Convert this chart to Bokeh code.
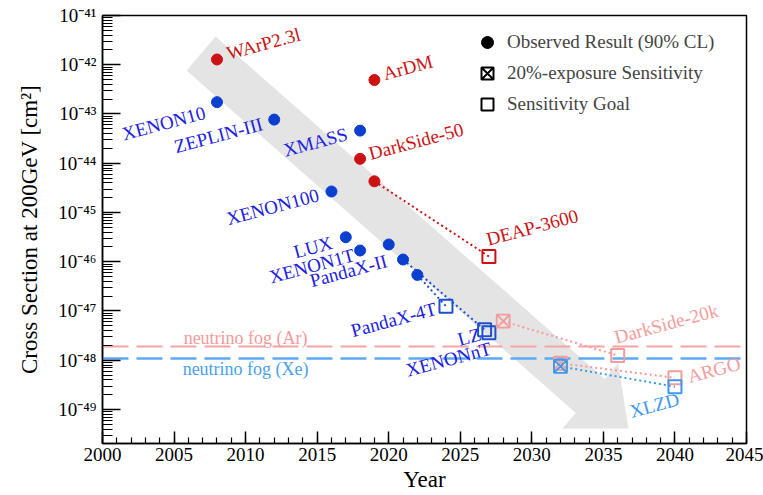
import math
from bokeh.plotting import figure
from bokeh.models import ColumnDataSource, FixedTicker, Legend, LegendItem, Range1d
from bokeh.core.properties import value
from bokeh.embed import file_html
from bokeh.resources import INLINE

FONT = "Liberation Serif"

# ---------------- data ----------------
# Observed results (90% CL) -- argon experiments
ar_obs_names = ["WArP2.3l", "ArDM", "DarkSide-50", "DEAP-3600"]
ar_obs_years = [2008, 2019, 2018, 2019]
ar_obs_xsec = [1.28e-42, 4.9e-43, 1.23e-44, 4.3e-45]

# Observed results (90% CL) -- xenon experiments
xe_obs_names = ["XENON10", "ZEPLIN-III", "XMASS", "XENON100", "LUX", "XENON1T",
                "PandaX-II", "LZ", "PandaX-4T"]
xe_obs_years = [2008, 2012, 2018, 2016, 2017, 2018, 2020, 2021, 2022]
xe_obs_xsec = [1.74e-43, 7.7e-44, 4.6e-44, 2.67e-45, 3.15e-46, 1.69e-46,
               2.24e-46, 1.11e-46, 5.4e-47]

# Sensitivity goals
goal_names = ["PandaX-4T", "LZ", "XENONnT", "DEAP-3600", "DarkSide-20k", "ARGO", "XLZD"]
goal_years = [2024, 2026.7, 2027, 2027, 2036, 2040, 2040]
goal_xsec = [1.25e-47, 4.15e-48, 3.6e-48, 1.28e-46, 1.25e-48, 4.4e-49, 2.9e-49]

# 20%-exposure sensitivities
exp20_names = ["DarkSide-20k", "ARGO", "XLZD"]
exp20_years = [2028, 2032, 2032]
exp20_xsec = [6.2e-48, 8.7e-49, 7.5e-49]

# neutrino fog levels
fog_ar = 1.9e-48
fog_xe = 1.1e-48

# the grey trend arrow outline (year, cross section)
arrow_years = [2005.87, 2007.90, 2035.10, 2036.03, 2036.75, 2032.14, 2033.07]
arrow_xsec = [7.64e-43, 3.75e-42, 4.18e-49, 8.67e-49, 4.11e-50, 4.11e-50, 8.53e-50]

# axis ticks
x_major = list(range(2000, 2046, 5))
x_minor = list(range(2000, 2046))
y_exponents = [-49, -48, -47, -46, -45, -44, -43, -42, -41]
y_tick_labels = ["10⁻⁴⁹", "10⁻⁴⁸", "10⁻⁴⁷", "10⁻⁴⁶", "10⁻⁴⁵", "10⁻⁴⁴", "10⁻⁴³", "10⁻⁴²", "10⁻⁴¹"]

# ---------------- colours ----------------
RED = "#cc1212"
PINK = "#f49c9c"
BLUE_DOT = "#0a3fd0"
BLUE_TXT = "#2020e0"
BLUE_SQ = "#1f4fcc"
LBLUE = "#3d97ee"

# ---------------- figure ----------------
p = figure(width=763, height=495, x_range=Range1d(2000, 2045),
           y_range=Range1d(2.04e-50, 1e-41), y_axis_type="log",
           output_backend="svg", toolbar_location=None,
           min_border_left=102, min_border_right=17, min_border_top=15, min_border_bottom=52)
p.grid.visible = False
p.outline_line_color = "black"
p.outline_line_width = 1.5
p.background_fill_color = "white"
p.border_fill_color = "white"

y_major = [10.0 ** e for e in y_exponents]
y_minor = [m * 10.0 ** e for e in range(-50, -41) for m in range(2, 10)]

xa = p.xaxis[0]
xa.ticker = FixedTicker(ticks=x_major, minor_ticks=x_minor)
ya = p.yaxis[0]
ya.ticker = FixedTicker(ticks=y_major, minor_ticks=y_minor)
ya.major_label_overrides = dict(zip(y_major, y_tick_labels))

for ax in (xa, ya):
    ax.axis_line_width = 1.5
    ax.major_tick_out = 0
    ax.minor_tick_out = 0
    ax.major_tick_line_width = 1.5
    ax.minor_tick_line_width = 1.2
    ax.major_label_text_font = FONT
    ax.major_label_text_font_size = "19px"
    ax.major_label_text_color = "black"
    ax.axis_label_text_font = FONT
    ax.axis_label_text_font_style = "normal"
    ax.axis_label_text_color = "black"
    ax.axis_label_text_font_size = "23px"

xa.major_tick_in = 12
xa.minor_tick_in = 6
xa.major_label_standoff = 4
xa.axis_label = "Year"
xa.axis_label_standoff = 3

ya.major_tick_in = 18
ya.minor_tick_in = 10
ya.major_label_standoff = 6
ya.axis_label = "Cross Section at 200GeV [cm²]"
ya.axis_label_standoff = 13

# grey arrow
p.patch(arrow_years, arrow_xsec, fill_color="#e4e4e4", line_alpha=0)

# neutrino fog lines
p.hspan(y=[fog_ar], line_color="#f5a3a3", line_width=2, line_dash="26 8")
p.hspan(y=[fog_xe], line_color="#5ea9f4", line_width=2.5, line_dash="26 8")
p.text(x=[2010, 2010], y=[fog_ar, fog_xe],
       text=["neutrino fog (Ar)", "neutrino fog (Xe)"],
       y_offset=[-9, 11], text_color=["#f29a9a", "#4a9ff0"],
       text_align="center", text_baseline="middle",
       text_font=value(FONT), text_font_size="18px")

# dotted connections
ar_o = dict(zip(ar_obs_names, zip(ar_obs_years, ar_obs_xsec)))
xe_o = dict(zip(xe_obs_names, zip(xe_obs_years, xe_obs_xsec)))
gl = dict(zip(goal_names, zip(goal_years, goal_xsec)))
e20 = dict(zip(exp20_names, zip(exp20_years, exp20_xsec)))

connections = [
    (ar_o["DEAP-3600"], gl["DEAP-3600"], RED),
    (xe_o["LZ"], gl["LZ"], BLUE_SQ),
    (xe_o["PandaX-4T"], gl["PandaX-4T"], BLUE_SQ),
    (e20["DarkSide-20k"], gl["DarkSide-20k"], PINK),
    (e20["ARGO"], gl["ARGO"], PINK),
    (e20["XLZD"], gl["XLZD"], LBLUE),
]
for a, b, c in connections:
    p.line([a[0], b[0]], [a[1], b[1]], line_color=c, line_width=2, line_dash="2 3")

# observed points
p.scatter(ar_obs_years, ar_obs_xsec, marker="circle", size=11, color=RED)
p.scatter(xe_obs_years, xe_obs_xsec, marker="circle", size=11, color=BLUE_DOT)

# goal squares
goal_colors = [BLUE_SQ, BLUE_SQ, BLUE_SQ, RED, PINK, PINK, LBLUE]
p.scatter(goal_years, goal_xsec, marker="square", size=13, fill_alpha=0,
          line_color=goal_colors, line_width=2)
exp20_colors = [PINK, PINK, LBLUE]
p.scatter(exp20_years, exp20_xsec, marker="square_x", size=13, fill_alpha=0,
          line_color=exp20_colors, line_width=1.8)

# experiment labels: (text, anchor point, dx, dy, align, colour)
label_specs = [
    ("WArP2.3l", ar_o["WArP2.3l"], 10, -6, "left", RED),
    ("ArDM", ar_o["ArDM"], 9, -6, "left", RED),
    ("DarkSide-50", ar_o["DarkSide-50"], 9, -5, "left", RED),
    ("XENON10", xe_o["XENON10"], -12, 10, "right", BLUE_TXT),
    ("ZEPLIN-III", xe_o["ZEPLIN-III"], -12, 4, "right", BLUE_TXT),
    ("XMASS", xe_o["XMASS"], -13, 3, "right", BLUE_TXT),
    ("XENON100", xe_o["XENON100"], -13, 3, "right", BLUE_TXT),
    ("LUX", xe_o["LUX"], -14, 5, "right", BLUE_TXT),
    ("XENON1T", xe_o["XENON1T"], -6, 4, "right", BLUE_TXT),
    ("PandaX-II", xe_o["PandaX-II"], -2, 16, "right", BLUE_TXT),
    ("PandaX-4T", gl["PandaX-4T"], -10, 2, "right", BLUE_TXT),
    ("LZ", gl["LZ"], -4, 4, "right", BLUE_TXT),
    ("XENONnT", gl["XENONnT"], 2, 15, "right", BLUE_TXT),
    ("DEAP-3600", gl["DEAP-3600"], -2, -17, "left", RED),
    ("DarkSide-20k", gl["DarkSide-20k"], -3, -18, "left", PINK),
    ("ARGO", gl["ARGO"], 13, -1, "left", PINK),
    ("XLZD", gl["XLZD"], -45, 25, "left", LBLUE),
]
lab_src = ColumnDataSource(dict(
    x=[s[1][0] for s in label_specs],
    y=[s[1][1] for s in label_specs],
    text=[s[0] for s in label_specs],
    dx=[s[2] for s in label_specs],
    dy=[s[3] for s in label_specs],
    align=[s[4] for s in label_specs],
    color=[s[5] for s in label_specs],
))
p.text(x="x", y="y", text="text", x_offset="dx", y_offset="dy", text_align="align",
       text_color="color", text_baseline="middle", angle=15, angle_units="deg",
       text_font=value(FONT), text_font_size="19px", source=lab_src)

# legend
nan = float("nan")
r1 = p.scatter([nan], [nan], marker="circle", size=11, color="black")
r2 = p.scatter([nan], [nan], marker="square_x", size=12, fill_alpha=0, line_color="black", line_width=2)
r3 = p.scatter([nan], [nan], marker="square", size=12, fill_alpha=0, line_color="black", line_width=2)
legend = Legend(items=[LegendItem(label="Observed Result (90% CL)", renderers=[r1]),
                       LegendItem(label="20%-exposure Sensitivity", renderers=[r2]),
                       LegendItem(label="Sensitivity Goal", renderers=[r3])],
                location=(370, 324), glyph_width=30, glyph_height=30, spacing=1,
                padding=0, margin=0, label_standoff=5,
                label_text_font=FONT, label_text_font_size="19px",
                border_line_alpha=0, background_fill_alpha=0)
p.add_layout(legend)

open("out.html", "w").write(file_html(p, INLINE))
